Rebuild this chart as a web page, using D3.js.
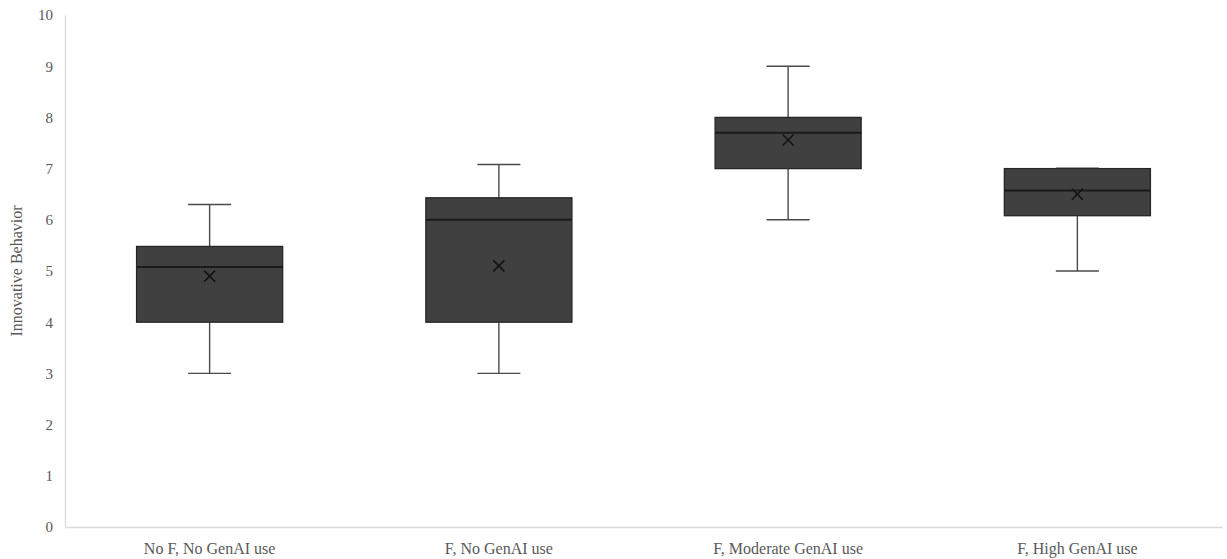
<!DOCTYPE html>
<html><head><meta charset="utf-8">
<script src="https://cdn.jsdelivr.net/npm/d3@7"></script>
<style>body{margin:0;background:#fff;} svg{display:block;}</style>
</head><body>
<svg id="chart" width="1227" height="559"></svg>
<script>
const categories = ["No F, No GenAI use", "F, No GenAI use", "F, Moderate GenAI use", "F, High GenAI use"];
const whiskerLow = [3, 3, 6, 5];
const q1 = [4, 4, 7, 6.08];
const median = [5.08, 6, 7.7, 6.57];
const q3 = [5.48, 6.43, 8, 7];
const whiskerHigh = [6.3, 7.08, 9, 7.01];
const means = [4.9, 5.1, 7.56, 6.5];
const yTicks = [0,1,2,3,4,5,6,7,8,9,10];
const yTitle = "Innovative Behavior";

const data = categories.map((c,i)=>({c, lo:whiskerLow[i], q1:q1[i], med:median[i], q3:q3[i], hi:whiskerHigh[i], mean:means[i]}));

const svg = d3.select("#chart");
const mLeft = 65, mRight = 1222, mTop = 15, mBottom = 527;
const x = d3.scaleBand().domain(categories).range([mLeft, mRight]).padding(0);
const y = d3.scaleLinear().domain([0,10]).range([mBottom, mTop]);
const boxW = x.bandwidth()*0.505;
const capW = 43;
const serif = "'Liberation Serif', 'Times New Roman', serif";

// axes
const yAxis = d3.axisLeft(y).tickValues(yTicks).tickSize(0).tickPadding(12);
const gy = svg.append("g").attr("transform",`translate(${mLeft},0)`).call(yAxis);
gy.select(".domain").attr("stroke","#d9d9d9").attr("stroke-width",1.3);
gy.selectAll("text").attr("font-family",serif).attr("font-size",15).attr("fill","#595959");

const xAxis = d3.axisBottom(x).tickSize(0).tickPadding(16);
const gx = svg.append("g").attr("transform",`translate(0,${mBottom})`).call(xAxis);
gx.select(".domain").attr("stroke","#d9d9d9").attr("stroke-width",1.6);
gx.selectAll("text").attr("font-family",serif).attr("font-size",16).attr("fill","#595959");

svg.append("text").attr("transform",`translate(22,${(mTop+mBottom)/2}) rotate(-90)`)
  .attr("text-anchor","middle").attr("font-family",serif).attr("font-size",16).attr("fill","#595959").text(yTitle);

const g = svg.append("g").selectAll("g").data(data).join("g")
  .attr("transform", d=>`translate(${x(d.c)+x.bandwidth()/2},0)`);

// whiskers
g.append("line").attr("x1",0).attr("x2",0).attr("y1",d=>y(d.hi)).attr("y2",d=>y(d.q3)).attr("stroke","#4a4a4a").attr("stroke-width",1.4);
g.append("line").attr("x1",0).attr("x2",0).attr("y1",d=>y(d.lo)).attr("y2",d=>y(d.q1)).attr("stroke","#4a4a4a").attr("stroke-width",1.4);
g.append("line").attr("x1",-capW/2).attr("x2",capW/2).attr("y1",d=>y(d.hi)).attr("y2",d=>y(d.hi)).attr("stroke","#4a4a4a").attr("stroke-width",1.4);
g.append("line").attr("x1",-capW/2).attr("x2",capW/2).attr("y1",d=>y(d.lo)).attr("y2",d=>y(d.lo)).attr("stroke","#4a4a4a").attr("stroke-width",1.4);

// box
g.append("rect").attr("x",-boxW/2).attr("width",boxW)
  .attr("y",d=>y(d.q3)).attr("height",d=>y(d.q1)-y(d.q3))
  .attr("fill","#404040").attr("stroke","#262626").attr("stroke-width",1.3);
// median
g.append("line").attr("x1",-boxW/2).attr("x2",boxW/2).attr("y1",d=>y(d.med)).attr("y2",d=>y(d.med)).attr("stroke","#1a1a1a").attr("stroke-width",2);
// mean X
const s = 5.5;
g.append("path").attr("d",d=>`M${-s},${y(d.mean)-s}L${s},${y(d.mean)+s}M${s},${y(d.mean)-s}L${-s},${y(d.mean)+s}`)
  .attr("stroke","#111").attr("stroke-width",1.5).attr("fill","none");
</script>
</body></html>
